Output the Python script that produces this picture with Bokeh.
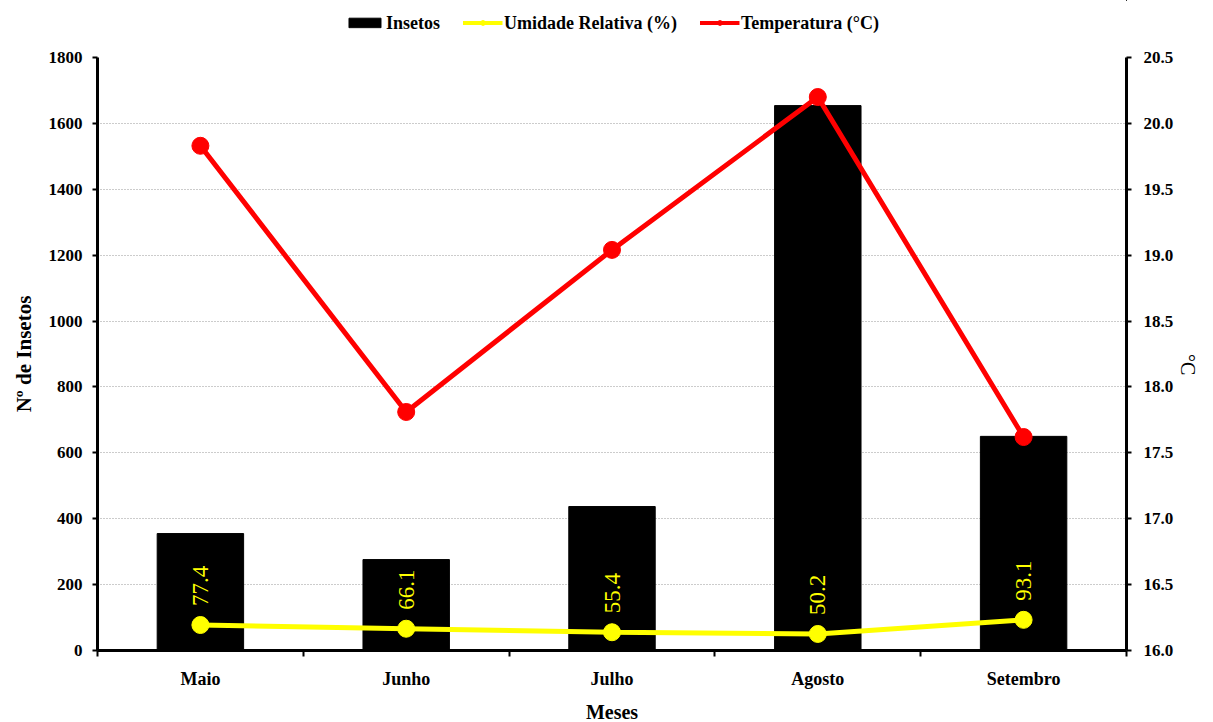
import math
from bokeh.plotting import figure
from bokeh.layouts import column
from bokeh.models import (Range1d, LinearAxis, FixedTicker, Legend, LegendItem,
                          PrintfTickFormatter, ColumnDataSource)
from bokeh.embed import file_html
from bokeh.resources import INLINE
from bokeh.core.properties import value

meses = ["Maio", "Junho", "Julho", "Agosto", "Setembro"]
insetos = [355, 276, 437, 1654, 650]
umidade = [77.4, 66.1, 55.4, 50.2, 93.1]
temperatura = [19.83, 17.81, 19.04, 20.20, 17.62]
left_ticks = [0, 200, 400, 600, 800, 1000, 1200, 1400, 1600, 1800]
right_ticks = [16.0, 16.5, 17.0, 17.5, 18.0, 18.5, 19.0, 19.5, 20.0, 20.5]
series_names = ["Insetos", "Umidade Relativa (%)", "Temperatura (°C)"]

xs = [i + 0.5 for i in range(len(meses))]
src = ColumnDataSource(dict(x=xs, ins=insetos, um=umidade, t=temperatura,
                            lab=[f"{u:.1f}" for u in umidade]))

FONT = "Liberation Serif"
YEL = "#FFFF00"
RED = "#FF0000"

p = figure(width=1213, frame_height=593, x_range=Range1d(0, len(meses)),
           y_range=Range1d(left_ticks[0], left_ticks[-1]),
           output_backend="svg", toolbar_location=None,
           min_border_left=97, min_border_right=86, min_border_top=12,
           min_border_bottom=72)
p.outline_line_color = None
p.background_fill_color = "white"
p.border_fill_color = "white"

p.extra_y_ranges = {"t": Range1d(right_ticks[0], right_ticks[-1])}

# grid
p.xgrid.grid_line_color = None
p.ygrid.ticker = FixedTicker(ticks=left_ticks)
p.ygrid.grid_line_color = "#999999"
p.ygrid.grid_line_dash = "1 2"
p.ygrid.grid_line_width = 1

# x axis
xa = p.xaxis[0]
xa.ticker = FixedTicker(ticks=xs, minor_ticks=list(range(len(meses) + 1)))
xa.major_label_overrides = {x: m for x, m in zip(xs, meses)}
xa.major_tick_line_color = None
xa.major_tick_out = 0
xa.minor_tick_line_color = "black"
xa.minor_tick_line_width = 2
xa.minor_tick_out = 6
xa.minor_tick_in = 0
xa.axis_line_width = 3
xa.axis_line_color = "black"
xa.major_label_text_font = FONT
xa.major_label_text_font_style = "bold"
xa.major_label_text_font_size = "18px"
xa.major_label_text_color = "black"
xa.major_label_standoff = 12
xa.axis_label = "Meses"
xa.axis_label_text_font = FONT
xa.axis_label_text_font_style = "bold"
xa.axis_label_text_font_size = "20px"
xa.axis_label_text_color = "black"
xa.axis_label_standoff = 9

# left axis
ya = p.yaxis[0]
ya.ticker = FixedTicker(ticks=left_ticks)
ya.minor_tick_line_color = None
ya.major_tick_out = 5
ya.major_tick_in = 0
ya.major_tick_line_width = 2
ya.axis_line_width = 3
ya.major_label_text_font = FONT
ya.major_label_text_font_style = "bold"
ya.major_label_text_font_size = "17px"
ya.major_label_text_color = "black"
ya.major_label_standoff = 10
ya.axis_label = "Nº de Insetos"
ya.axis_label_text_font = FONT
ya.axis_label_text_font_style = "bold"
ya.axis_label_text_font_size = "21px"
ya.axis_label_text_color = "black"
ya.axis_label_standoff = 10

# right axis
ra = LinearAxis(y_range_name="t", ticker=FixedTicker(ticks=right_ticks),
                formatter=PrintfTickFormatter(format="%.1f"), axis_label="°C")
ra.minor_tick_line_color = None
ra.major_tick_out = 5
ra.major_tick_in = 0
ra.major_tick_line_width = 2
ra.axis_line_width = 3
ra.major_label_text_font = FONT
ra.major_label_text_font_style = "bold"
ra.major_label_text_font_size = "17px"
ra.major_label_text_color = "black"
ra.major_label_standoff = 12
ra.axis_label_text_font = FONT
ra.axis_label_text_font_style = "normal"
ra.axis_label_text_font_size = "20px"
ra.axis_label_text_color = "black"
ra.axis_label_standoff = 12
if "axis_label_orientation" in ra.properties():
    ra.axis_label_orientation = -math.pi / 2
p.add_layout(ra, "right")

# bars
p.vbar(x="x", top="ins", bottom=0, width=0.42, source=src,
       fill_color="black", line_color="black")

# humidity
p.line("x", "um", source=src, line_color=YEL, line_width=5)
p.scatter("x", "um", source=src, size=17, fill_color=YEL, line_color=YEL)
p.text("x", "um", text="lab", source=src, angle=math.pi / 2,
       text_align="left", text_baseline="middle", y_offset=-19,
       text_color=YEL, text_font=value(FONT), text_font_size="23px")

# temperature
p.line("x", "t", source=src, y_range_name="t", line_color=RED, line_width=5)
p.scatter("x", "t", source=src, y_range_name="t", size=17,
          fill_color=RED, line_color=RED)

# legend strip (separate small figure on top; its glyphs lie outside its view)
lg = figure(width=1213, height=45, output_backend="svg", toolbar_location=None,
            x_range=Range1d(-100, -99), y_range=Range1d(-100, -99),
            min_border=0)
lg.outline_line_color = None
lg.axis.visible = False
lg.grid.visible = False
r_bar = lg.vbar(x="x", top="ins", width=0.42, source=src,
                fill_color="black", line_color="black")
r_hl = lg.line("x", "um", source=src, line_color=YEL, line_width=4)
r_hs = lg.scatter("x", "um", source=src, size=11, fill_color=YEL, line_color=YEL)
r_tl = lg.line("x", "t", source=src, line_color=RED, line_width=4)
r_ts = lg.scatter("x", "t", source=src, size=11, fill_color=RED, line_color=RED)

legend = Legend(items=[
    LegendItem(label=series_names[0], renderers=[r_bar]),
    LegendItem(label=series_names[1], renderers=[r_hl, r_hs]),
    LegendItem(label=series_names[2], renderers=[r_tl, r_ts]),
], orientation="horizontal", location="center")
legend.label_text_font = FONT
legend.label_text_font_style = "bold"
legend.label_text_font_size = "18px"
legend.label_text_color = "black"
legend.border_line_color = None
legend.background_fill_alpha = 0
legend.spacing = 22
legend.glyph_width = 40
legend.glyph_height = 12
legend.label_standoff = 2
legend.padding = 4
legend.margin = 0
lg.add_layout(legend, "center")

layout = column(lg, p, spacing=0)
open("out.html", "w").write(file_html(layout, INLINE))
